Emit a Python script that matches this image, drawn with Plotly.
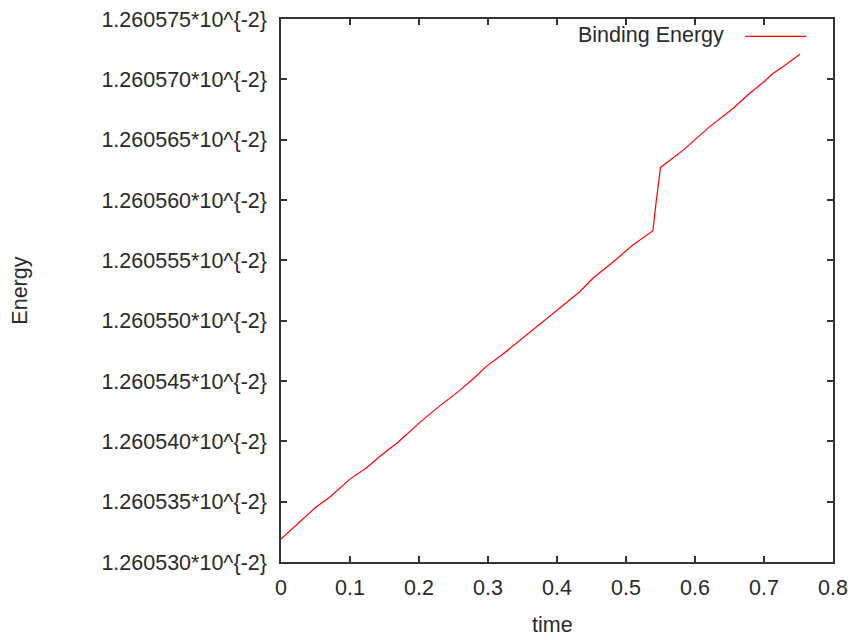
import plotly.graph_objects as go

# Data (energy in units of 10^-2)
time = [0.0, 0.02, 0.05, 0.07, 0.10, 0.125, 0.143, 0.17, 0.191, 0.20, 0.23, 0.257,
        0.28, 0.297, 0.32, 0.346, 0.375, 0.404, 0.433, 0.452, 0.48, 0.51, 0.539,
        0.544, 0.549, 0.55, 0.565, 0.583, 0.60, 0.621, 0.655, 0.679, 0.70, 0.713,
        0.73, 0.752]
energy = [1.2605319, 1.26053295, 1.26053452, 1.26053535, 1.26053687, 1.26053785,
          1.26053874, 1.26053995, 1.26054109, 1.26054151, 1.26054294, 1.26054412,
          1.26054525, 1.26054619, 1.26054715, 1.26054834, 1.2605497, 1.26055105,
          1.2605524, 1.26055351, 1.2605548, 1.26055627, 1.26055745, 1.26055999,
          1.2605625, 1.2605627, 1.26056335, 1.26056413, 1.260565, 1.26056606,
          1.26056758, 1.26056882, 1.2605698, 1.26057048, 1.26057115, 1.26057208]

y_tickvals = [1.26053, 1.260535, 1.26054, 1.260545, 1.26055, 1.260555,
              1.26056, 1.260565, 1.26057, 1.260575]
y_ticktext = ["1.260530*10^{-2}", "1.260535*10^{-2}", "1.260540*10^{-2}",
              "1.260545*10^{-2}", "1.260550*10^{-2}", "1.260555*10^{-2}",
              "1.260560*10^{-2}", "1.260565*10^{-2}", "1.260570*10^{-2}",
              "1.260575*10^{-2}"]
x_tickvals = [0, 0.1, 0.2, 0.3, 0.4, 0.5, 0.6, 0.7, 0.8]
x_ticktext = ["0", "0.1", "0.2", "0.3", "0.4", "0.5", "0.6", "0.7", "0.8"]
series_name = "Binding Energy"

FONT = "Liberation Sans, Arial, sans-serif"
FS = 21.5
TXT = "#2a2a2a"
AX = "#333333"

fig = go.Figure()
fig.add_trace(go.Scatter(x=time, y=energy, mode="lines", name=series_name,
                         line=dict(color="#ff0000", width=1.2), showlegend=False))

axis_common = dict(showline=True, linecolor=AX, linewidth=1.5, mirror="ticks",
                   ticks="inside", ticklen=6, tickwidth=1.5, tickcolor=AX,
                   showgrid=False, zeroline=False,
                   tickfont=dict(family=FONT, size=FS, color=TXT))

fig.update_layout(
    width=851, height=640,
    margin=dict(l=281, r=18, t=19, b=78, autoexpand=False),
    paper_bgcolor="white", plot_bgcolor="white",
    font=dict(family=FONT, size=FS, color=TXT),
    xaxis=dict(range=[0, 0.8], tickvals=x_tickvals, ticktext=x_ticktext,
               ticklabelstandoff=5, **axis_common),
    yaxis=dict(range=[1.26053, 1.260575], tickvals=y_tickvals, ticktext=y_ticktext,
               ticklabelstandoff=8, **axis_common),
    annotations=[
        dict(text="time", xref="paper", yref="paper", x=0.4918, y=-0.1153,
             xanchor="center", yanchor="middle", showarrow=False,
             font=dict(family=FONT, size=FS, color=TXT)),
        dict(text="Energy", xref="paper", yref="paper", x=-0.4744, y=0.50,
             xanchor="center", yanchor="middle", textangle=-90, showarrow=False,
             font=dict(family=FONT, size=FS, color=TXT)),
        dict(text=series_name, xref="paper", yref="paper", x=0.8068, y=0.970,
             xanchor="right", yanchor="middle", showarrow=False,
             font=dict(family=FONT, size=FS, color=TXT)),
    ],
    shapes=[
        dict(type="line", xref="paper", yref="paper", x0=0.8412, x1=0.9518,
             y0=0.968, y1=0.968, line=dict(color="#ff0000", width=1.2)),
    ],
)

fig.write_html("out.html")
